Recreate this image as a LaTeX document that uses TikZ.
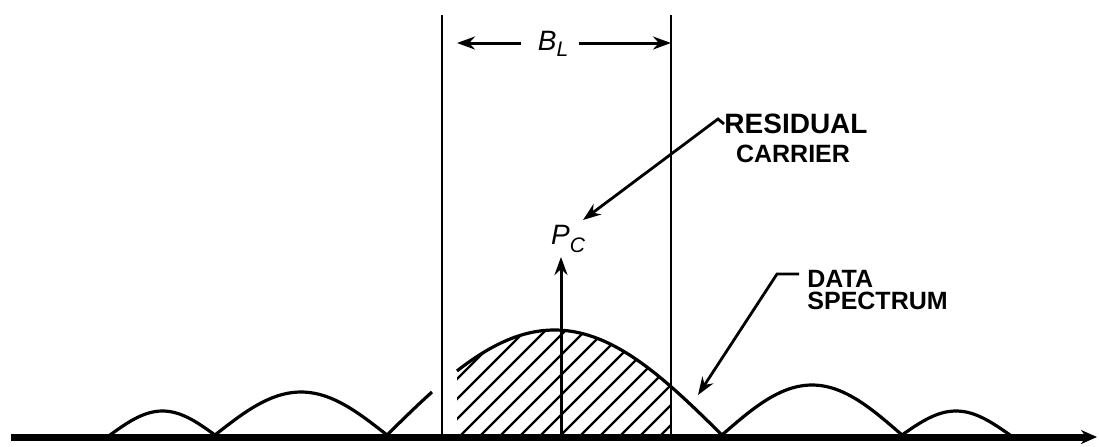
\documentclass[tikz,border=0pt]{standalone}
\usepackage{fontspec}
\setsansfont{Liberation Sans}
\usetikzlibrary{arrows.meta}
\begin{document}
\begin{tikzpicture}[x=0.5pt,y=-0.5pt,
  lobe/.style={line width=1.6pt, line join=round},
  axisline/.style={line width=3.5pt, -{Stealth[length=8pt,width=7pt]}},
  guide/.style={line width=1pt},
  leader/.style={line width=1.4pt, -{Stealth[length=9pt,width=6.5pt]}},
  dimarrow/.style={line width=1.5pt, -{Stealth[length=9pt,width=6.5pt]}},
  hatch/.style={line width=1.2pt},
  lbl/.style={font=\sffamily\bfseries\fontsize{12.5}{14}\selectfont, inner sep=0pt},
  sym/.style={font=\sffamily\itshape\fontsize{14}{15}\selectfont, inner sep=0pt}]
\useasboundingbox (0,0) rectangle (1099,446);

% hatched area under main lobe
\begin{scope}
  \clip (457,436) -- plot[domain=457:671,samples=60] (\x,{435-105*sin((\x-387)/335*180)}) -- (671,436) -- cycle;
  \foreach \s in {300,320,...,680} {
    \draw[hatch] (\s,436) -- ++(180,-180);
  }
\end{scope}

% spectrum lobes
\draw[lobe] plot[domain=110:215,samples=40] (\x,{435-24*sin((\x-110)/105*180)});
\draw[lobe] plot[domain=215:387,samples=50] (\x,{435-43*sin((\x-215)/172*180)});
\draw[lobe] plot[domain=387:432,samples=20] (\x,{435-105*sin((\x-387)/335*180)});
\draw[lobe] plot[domain=457:722,samples=80] (\x,{435-105*sin((\x-387)/335*180)});
\draw[lobe] plot[domain=722:902,samples=50] (\x,{435-50*sin((\x-722)/180*180)});
\draw[lobe] plot[domain=902:1010,samples=40] (\x,{435-24*sin((\x-902)/108*180)});

% frequency axis
\coordinate (axL) at (11,437);
\coordinate (axR) at (1097,437);
\draw[axisline] (axL) -- (axR);

% loop bandwidth lines
\coordinate (vLt) at (442,15);
\coordinate (vLb) at (442,437);
\coordinate (vRt) at (671,15);
\coordinate (vRb) at (671,437);
\draw[guide] (vLt) -- (vLb);
\draw[guide] (vRt) -- (vRb);

% B_L dimension
\node[sym] (bl) at (553,44) {B\raisebox{-0.45ex}{\fontsize{10.5}{11}\selectfont L}};
\coordinate (blL) at (457,43);
\coordinate (blR) at (671,43);
\draw[dimarrow] ([xshift=-8pt]bl.west |- blL) -- (blL);
\draw[dimarrow] ([xshift=5pt]bl.east |- blR) -- (blR);

% residual carrier
\coordinate (cb) at (561,437);
\coordinate (ct) at (561,257);
\draw[dimarrow] (cb) -- (ct);
\node[sym] (pc) at (568,239) {P\raisebox{-0.6ex}{\fontsize{10.5}{11}\selectfont C}};

% labels
\node[lbl, font=\sffamily\bfseries\fontsize{14}{15}\selectfont] (res) at (796,124) {RESIDUAL};
\node[lbl, font=\sffamily\bfseries\fontsize{12.5}{14}\selectfont] (car) at (793,154) {CARRIER};
\node[lbl, anchor=west] (data) at (807,279) {DATA};
\node[lbl, anchor=west] (spec) at (807,301) {SPECTRUM};

% leaders
\coordinate (rk) at (718,119);
\coordinate (rt) at (583,220);
\draw[leader] (res.west) -- (rk) -- (rt);
\coordinate (dk) at (777,274);
\coordinate (dt) at (698,395);
\draw[leader] ([xshift=-4pt]data.west |- dk) -- (dk) -- (dt);
\end{tikzpicture}
\end{document}
